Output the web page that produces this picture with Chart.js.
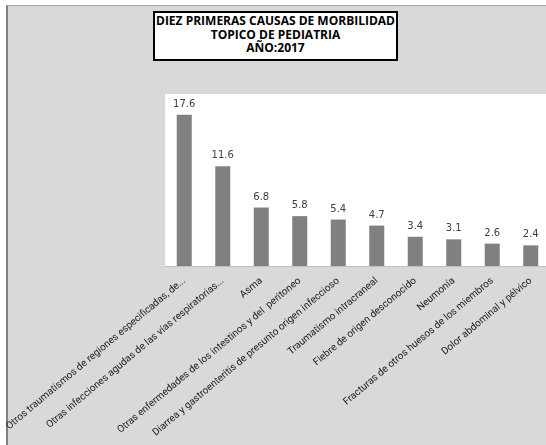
<!DOCTYPE html>
<html>
<head>
<meta charset="utf-8">
<script src="https://cdn.jsdelivr.net/npm/chart.js@4"></script>
<style>
  html, body { margin: 0; padding: 0; background: #fff; overflow: hidden; width: 546px; height: 445px; }
  #frame { position: absolute; left: 6px; top: 5px; right: 0; bottom: 0; background: #d9d9d9;
    border-top: 1px solid #a6a6a6; border-left: 2px solid #808080; }
  #wrap { position: absolute; left: 0; top: 0; width: 552px; height: 445px; }
  #titlebox { position: absolute; left: 153px; top: 11px; width: 241px; height: 45px;
    background: #fff; border: 2px solid #000; text-align: center;
    font: bold 12px "Open Sans", sans-serif; line-height: 13.7px; color: #000; padding-top: 1px; }
</style>
</head>
<body>
<div id="frame"></div>
<div id="titlebox">DIEZ PRIMERAS CAUSAS DE MORBILIDAD<br>TOPICO DE PEDIATRIA<br>AÑO:2017</div>
<div id="wrap"><canvas id="c"></canvas></div>
<script>
// Diez primeras causas de morbilidad — Tópico de Pediatría 2017 (%)
const causas = [
  "Otros traumatismos de regiones especificadas, de...",
  "Otras infecciones agudas de las vías respiratorias...",
  "Asma",
  "Otras enfermedades de los intestinos y del  peritoneo",
  "Diarrea y gastroenteritis de presunto origen infeccioso",
  "Traumatismo intracraneal",
  "Fiebre de origen desconocido",
  "Neumonía",
  "Fracturas de otros huesos de los miembros",
  "Dolor abdominal y pélvico"
];
const porcentajes = [17.6, 11.6, 6.8, 5.8, 5.4, 4.7, 3.4, 3.1, 2.6, 2.4];
const yMax = 20;

// white plot area behind the bars
const plotBg = {
  id: "plotBg",
  beforeDraw(chart) {
    const { ctx, chartArea: a } = chart;
    ctx.save();
    ctx.fillStyle = "#fff";
    ctx.fillRect(a.left, a.top, a.right - a.left, a.bottom - a.top);
    ctx.restore();
  }
};

// value labels above each bar
const valueLabels = {
  id: "valueLabels",
  afterDatasetsDraw(chart) {
    const { ctx } = chart;
    const meta = chart.getDatasetMeta(0);
    ctx.save();
    ctx.font = '10px "DejaVu Sans", sans-serif';
    ctx.fillStyle = "#404040";
    ctx.textAlign = "center";
    ctx.textBaseline = "middle";
    meta.data.forEach((bar, i) => {
      ctx.fillText(porcentajes[i].toFixed(1), bar.x, bar.y - 10.5);
    });
    ctx.restore();
  }
};

new Chart(document.getElementById("c"), {
  type: "bar",
  data: {
    labels: causas,
    datasets: [{
      data: porcentajes,
      backgroundColor: "#808080",
      borderWidth: 0,
      barPercentage: 0.39,
      categoryPercentage: 1
    }]
  },
  options: {
    responsive: true,
    maintainAspectRatio: false,
    animation: false,
    layout: { padding: { left: 165, top: 94, right: 2, bottom: 0 } },
    plugins: { legend: { display: false }, tooltip: { enabled: false } },
    scales: {
      x: {
        grid: { display: false, drawTicks: false },
        border: { display: true, color: "#bfbfbf", width: 1 },
        ticks: {
          color: "#1a1a1a",
          font: { family: "Roboto", size: 10 },
          minRotation: 40, maxRotation: 40,
          autoSkip: false,
          padding: 9,
          labelOffset: 0
        },
        afterFit(scale) {
          scale.height = 179;
          scale.paddingLeft = 0;
          scale.paddingRight = 0;
        }
      },
      y: { display: false, min: 0, max: yMax }
    }
  },
  plugins: [plotBg, valueLabels]
});
</script>
</body>
</html>
